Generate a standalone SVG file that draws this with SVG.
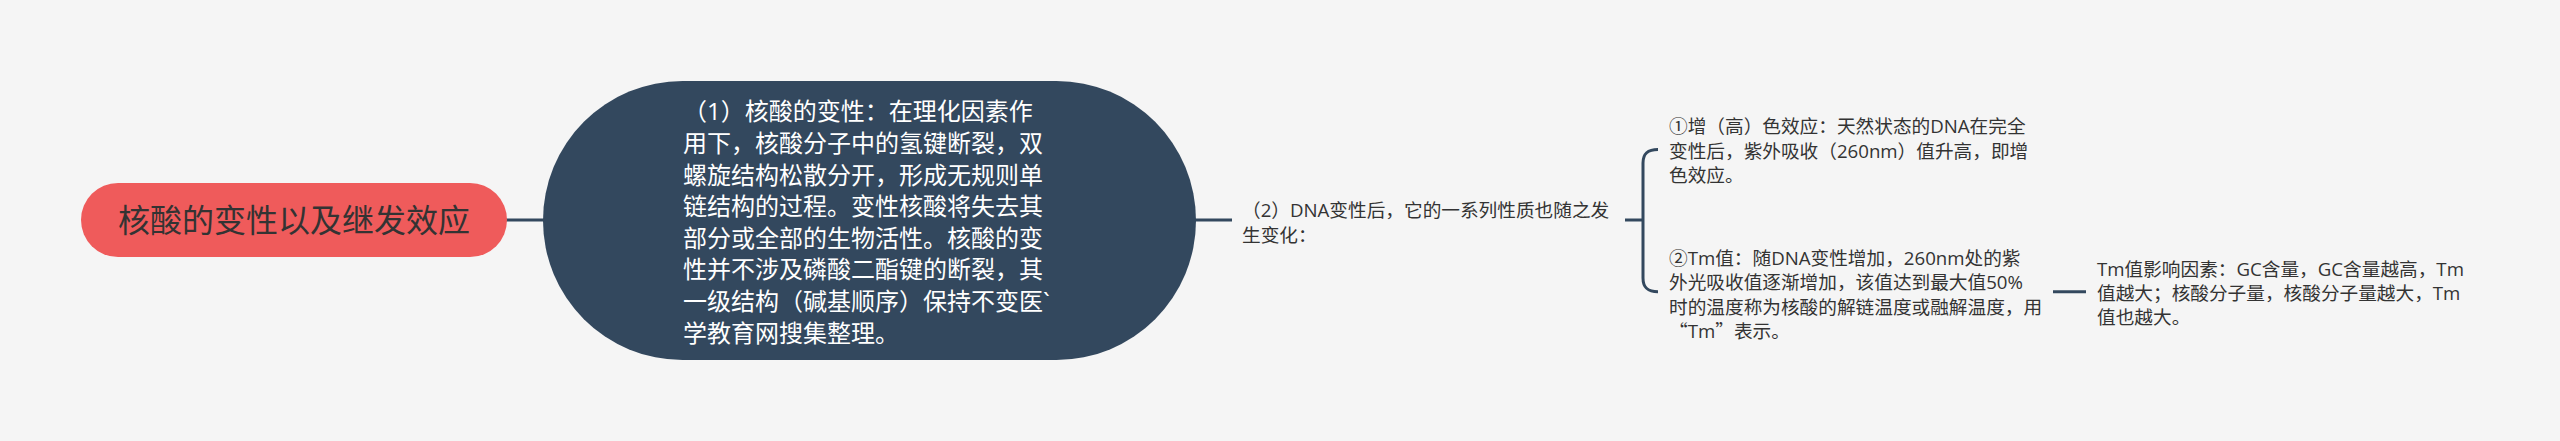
<svg xmlns="http://www.w3.org/2000/svg" width="2560" height="441" viewBox="0 0 2560 441">
<style>
.bg{fill:#f5f5f5}
.conn{fill:none;stroke:#33485e;stroke-width:3;stroke-linecap:butt}
.t{font-family:"Open Sans","Noto Sans CJK SC",sans-serif}
.cjk{font-family:"Noto Sans CJK SC",sans-serif}
.root-t{font-size:32px;fill:#333333}
.main-t{font-size:24px;fill:#ffffff}
.sub-t{font-size:18.67px;fill:#333333}
</style>
<rect class="bg" x="0" y="0" width="2560" height="441"/>
<g id="connectors">
<path class="conn" d="M505,220 H546"/>
<path class="conn" d="M1193,220 H1232"/>
<path class="conn" d="M1625,220 H1643"/>
<path class="conn" d="M1658,149.5 C1648,149.5 1643,153 1643,163 V278 C1643,288 1648,291.7 1658,291.7"/>
<path class="conn" d="M2053,291.7 H2086"/>
</g>
<g id="root">
<rect x="81" y="183" width="426" height="74" rx="37" ry="37" fill="#ef5b5b"/>
<text class="t root-t" x="294" y="231.5" text-anchor="middle">核酸的变性以及继发效应</text>
</g>
<g id="node-denature">
<rect x="543" y="81" width="653" height="279" rx="139.5" ry="139.5" fill="#33485e"/>
<text class="t main-t" x="683">
<tspan x="683" y="120.3">（1）核酸的变性：在理化因素作</tspan>
<tspan x="683" y="151.9">用下，核酸分子中的氢键断裂，双</tspan>
<tspan x="683" y="183.5">螺旋结构松散分开，形成无规则单</tspan>
<tspan x="683" y="215.1">链结构的过程。变性核酸将失去其</tspan>
<tspan x="683" y="246.7">部分或全部的生物活性。核酸的变</tspan>
<tspan x="683" y="278.3">性并不涉及磷酸二酯键的断裂，其</tspan>
<tspan x="683" y="309.9">一级结构（碱基顺序）保持不变医`</tspan>
<tspan x="683" y="341.5">学教育网搜集整理。</tspan>
</text>
</g>
<g id="node-dna-change">
<text class="t sub-t">
<tspan x="1242" y="217.2">（2）DNA变性后，它的一系列性质也随之发</tspan>
<tspan x="1242" y="241.5">生变化：</tspan>
</text>
</g>
<g id="node-hyperchromic">
<text class="t sub-t">
<tspan x="1669" y="133.4">①增（高）色效应：天然状态的DNA在完全</tspan>
<tspan x="1669" y="157.7">变性后，紫外吸收（260nm）值升高，即增</tspan>
<tspan x="1669" y="182">色效应。</tspan>
</text>
</g>
<g id="node-tm">
<text class="t sub-t">
<tspan x="1669" y="265">②Tm值：随DNA变性增加，260nm处的紫</tspan>
<tspan x="1669" y="289.3">外光吸收值逐渐增加，该值达到最大值50%</tspan>
<tspan x="1669" y="313.6">时的温度称为核酸的解链温度或融解温度，用</tspan>
<tspan x="1669" y="337.9"><tspan class="cjk">“</tspan>Tm<tspan class="cjk">”</tspan>表示。</tspan>
</text>
</g>
<g id="node-tm-factors">
<text class="t sub-t">
<tspan x="2097" y="276">Tm值影响因素：GC含量，GC含量越高，Tm</tspan>
<tspan x="2097" y="300">值越大；核酸分子量，核酸分子量越大，Tm</tspan>
<tspan x="2097" y="324">值也越大。</tspan>
</text>
</g>
</svg>
